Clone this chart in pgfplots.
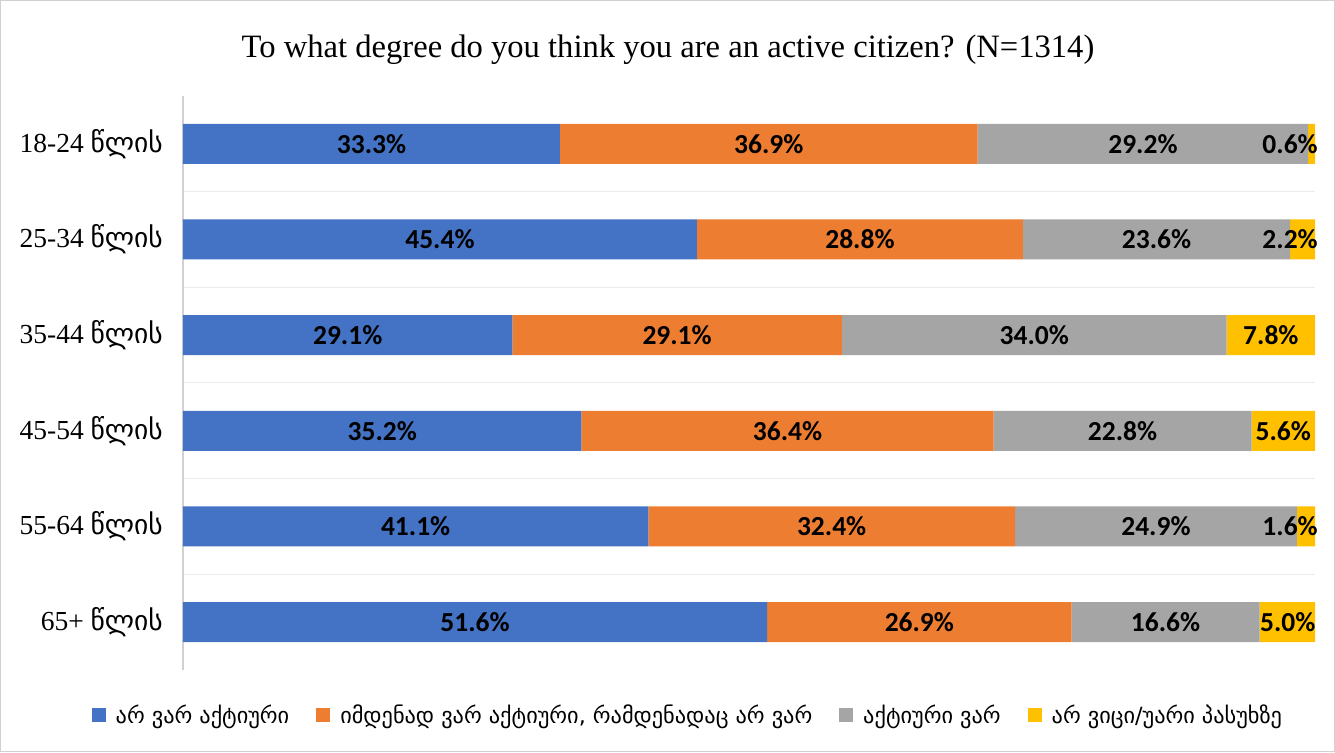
\documentclass[border=0pt]{standalone}
\usepackage{fontspec}
\setmainfont{Liberation Serif}
\newfontfamily\geo{DejaVu Sans}
\newfontfamily\lab{Carlito}
\usepackage{pgfplots}
\pgfplotsset{compat=1.18}
\usepackage{pgfplotstable}

\definecolor{cB}{RGB}{68,114,196}
\definecolor{cO}{RGB}{237,125,49}
\definecolor{cG}{RGB}{165,165,165}
\definecolor{cY}{RGB}{255,192,0}

% y: 0 = 65+, 5 = 18-24
\pgfplotstableread{
y a b c d
0 51.6 26.9 16.6 5.0
1 41.1 32.4 24.9 1.6
2 35.2 36.4 22.8 5.6
3 29.1 29.1 34.0 7.8
4 45.4 28.8 23.6 2.2
5 33.3 36.9 29.2 0.6
}\tbl
\pgfplotstablecreatecol[create col/expr={\thisrow{a}/2}]{ma}\tbl
\pgfplotstablecreatecol[create col/expr={\thisrow{a}+\thisrow{b}/2}]{mb}\tbl
\pgfplotstablecreatecol[create col/expr={\thisrow{a}+\thisrow{b}+\thisrow{c}/2}]{mc}\tbl
\pgfplotstablecreatecol[create col/expr={min(\thisrow{a}+\thisrow{b}+\thisrow{c}+\thisrow{d}/2,97.8)}]{md}\tbl

\pgfplotsset{
  common/.style={
    at={(0pt,0pt)}, anchor=south west,
    scale only axis, width=1132pt, height=574pt,
    xmin=0, xmax=100, ymin=-0.5, ymax=5.5,
  },
  lbl/.style={draw=none, mark=none,
    nodes near coords={\pgfmathprintnumber[fixed,fixed zerofill,precision=1,assume math mode=true]{\pgfplotspointmeta}\%},
    point meta=explicit,
    every node near coord/.append style={anchor=center, text=black, inner sep=0pt,
      font=\lab\bfseries\fontsize{27.5}{30}\selectfont}},
}

\begin{document}
\begin{tikzpicture}
\draw[black!18, line width=1pt] (-182.5pt,-81.5pt) rectangle (1151.5pt,669.5pt);
\begin{axis}[
  common,
  xbar stacked, bar width=40pt,
  axis x line=none,
  axis y line*=left,
  y axis line style={draw=black!18, line width=1.5pt, -},
  ytick={0,...,5},
  yticklabels={{65+ {\geo წლის}},{55-64 {\geo წლის}},{45-54 {\geo წლის}},{35-44 {\geo წლის}},{25-34 {\geo წლის}},{18-24 {\geo წლის}}},
  major tick length=0pt, minor tick length=0pt,
  yticklabel style={font=\fontsize{27.5}{30}\selectfont, inner sep=0pt, xshift=-20pt},
  minor ytick={0.5,1.5,2.5,3.5,4.5},
  yminorgrids,
  minor grid style={black!8, line width=1pt},
  legend style={at={(0.446,-0.078)}, anchor=center, draw=none, fill=none,
     legend columns=4, font=\geo\fontsize{22.3}{26}\selectfont,
     /tikz/every even column/.append style={column sep=25pt},
     /tikz/every odd column/.append style={column sep=8pt}},
  legend image code/.code={\path[#1, draw=none] (0pt,-7pt) rectangle (14pt,7pt);},
]
\addplot[fill=cB, draw=none] table[x=a,y=y] {\tbl};
\addplot[fill=cO, draw=none] table[x=b,y=y] {\tbl};
\addplot[fill=cG, draw=none] table[x=c,y=y] {\tbl};
\addplot[fill=cY, draw=none] table[x=d,y=y] {\tbl};
\legend{არ ვარ აქტიური, იმდენად ვარ აქტიური{,} რამდენადაც არ ვარ, აქტიური ვარ, არ ვიცი/უარი პასუხზე}
\end{axis}
\begin{axis}[common, hide axis]
\addplot[lbl] table[x=ma,y=y,meta=a] {\tbl};
\addplot[lbl] table[x=mb,y=y,meta=b] {\tbl};
\addplot[lbl] table[x=mc,y=y,meta=c] {\tbl};
\addplot[lbl] table[x=md,y=y,meta=d] {\tbl};
\end{axis}
\node[font=\fontsize{32.6}{36}\selectfont] at (485pt,620pt) {To what degree do you think you are an active citizen? (N=1314)};
\pgfresetboundingbox
\useasboundingbox (-183pt,-82pt) rectangle (1152pt,670pt);
\end{tikzpicture}
\end{document}
